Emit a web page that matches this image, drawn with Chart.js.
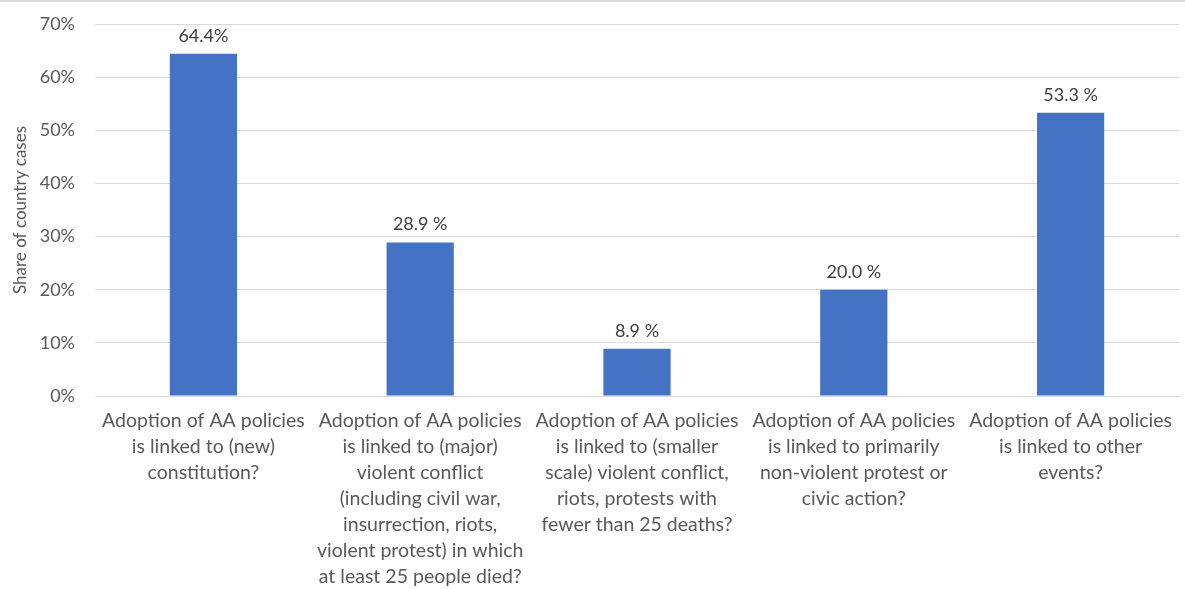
<!DOCTYPE html>
<html>
<head>
<meta charset="utf-8">
<script src="https://cdn.jsdelivr.net/npm/chart.js@4"></script>
<style>
  html, body { margin: 0; padding: 0; background: #fff; }
  #wrap { width: 1185px; height: 589px; position: relative; box-sizing: border-box; border-top: 2px solid #dcdcdc; }
</style>
</head>
<body>
<div id="wrap"><canvas id="grafico"></canvas></div>
<script>
const categorias = [
    ['Adoption of AA policies', 'is linked to (new)', 'constitution?'],
    ['Adoption of AA policies', 'is linked to (major)', 'violent conflict', '(including civil war,', 'insurrection, riots,', 'violent protest) in which', 'at least 25 people died?'],
    ['Adoption of AA policies', 'is linked to (smaller', 'scale) violent conflict,', 'riots, protests with', 'fewer than 25 deaths?'],
    ['Adoption of AA policies', 'is linked to primarily', 'non-violent protest or', 'civic action?'],
    ['Adoption of AA policies', 'is linked to other', 'events?']
];
const valores = [64.4, 28.9, 8.9, 20.0, 53.3];
const etiquetas = ['64.4%', '28.9 %', '8.9 %', '20.0 %', '53.3 %'];
const ticksY = [0, 10, 20, 30, 40, 50, 60, 70];

const fuente = 'Lato, "Open Sans", sans-serif';

// etiquetas encima de cada barra
const etiquetasBarras = {
    id: 'etiquetasBarras',
    afterDatasetsDraw(chart) {
        const ctx = chart.ctx;
        const meta = chart.getDatasetMeta(0);
        ctx.save();
        ctx.font = '18px ' + fuente;
        ctx.fillStyle = '#404040';
        ctx.textAlign = 'center';
        ctx.textBaseline = 'bottom';
        meta.data.forEach(function (barra, i) {
            ctx.fillText(etiquetas[i], barra.x, barra.y - 9);
        });
        ctx.restore();
    }
};

const ctx = document.getElementById('grafico').getContext('2d');
const grafico = new Chart(ctx, {
    type: 'bar',
    data: {
        labels: categorias,
        datasets: [{
            data: valores,
            backgroundColor: '#4472C4',
            borderWidth: 0,
            categoryPercentage: 1,
            barPercentage: 0.31
        }]
    },
    options: {
        responsive: true,
        maintainAspectRatio: false,
        animation: false,
        layout: { padding: { top: 22, right: 6, left: 10, bottom: -13 } },
        plugins: {
            legend: { display: false },
            tooltip: { enabled: false }
        },
        scales: {
            x: {
                grid: { display: false, drawTicks: false },
                border: { color: '#d9d9d9', width: 1 },
                afterFit(scale) {
                    scale.paddingLeft = 0;
                    scale.paddingRight = 0;
                },
                ticks: {
                    color: '#595959',
                    font: { family: fuente, size: 19.5, lineHeight: '26px' },
                    maxRotation: 0,
                    autoSkip: false,
                    padding: 12
                }
            },
            y: {
                min: 0,
                max: 70,
                afterBuildTicks(axis) {
                    axis.ticks = ticksY.map(v => ({ value: v }));
                },
                afterFit(scale) {
                    scale.width = 85;
                    scale.paddingTop = 0;
                    scale.paddingBottom = 0;
                },
                grid: { color: '#d9d9d9', drawTicks: false },
                border: { display: false },
                ticks: {
                    color: '#595959',
                    font: { family: fuente, size: 18 },
                    padding: 20,
                    callback: v => v + '%'
                },
                title: {
                    display: true,
                    text: 'Share of country cases',
                    color: '#595959',
                    font: { family: fuente, size: 17 },
                    padding: { top: 0, bottom: 0 }
                }
            }
        }
    },
    plugins: [etiquetasBarras]
});
</script>
</body>
</html>
